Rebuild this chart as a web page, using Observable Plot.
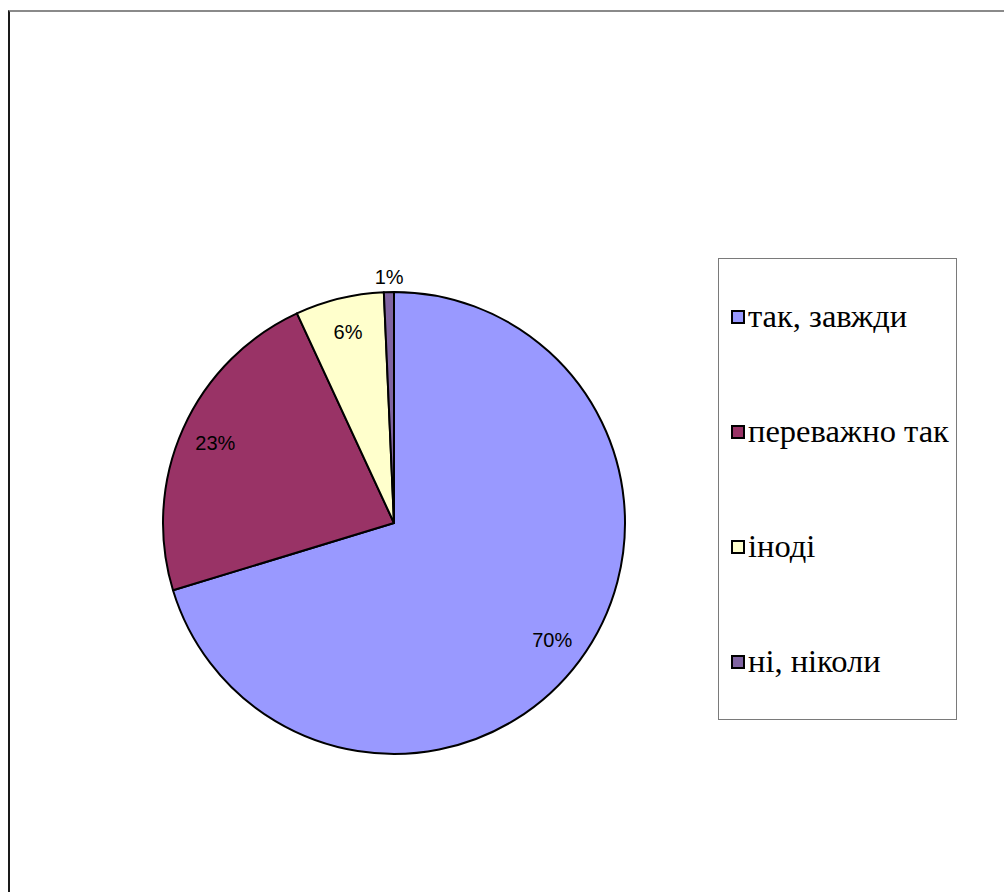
<!DOCTYPE html>
<html>
<head>
<meta charset="utf-8">
<script src="https://cdn.jsdelivr.net/npm/d3@7"></script>
<script src="https://cdn.jsdelivr.net/npm/@observablehq/plot@0.6"></script>
<style>
  html, body { margin: 0; padding: 0; background: #fff; overflow: hidden; }
  #wrap { position: relative; width: 1004px; height: 892px; }
  #frame { position: absolute; left: 8px; top: 10px; right: 0; bottom: 0;
           border-top: 2px solid #8a8a8a; border-left: 2px solid #1a1a1a; }
  #chart { position: absolute; left: 0; top: 0; }
  #legend { position: absolute; left: 718px; top: 258px; width: 239px; height: 462px;
            border: 1.5px solid #7a7a7a; box-sizing: border-box; display: flex; flex-direction: column;
            background: #fff; }
  .item { flex: 1; display: flex; align-items: center; padding-left: 12px;
          color: #000; white-space: nowrap; }
  .sw { width: 10px; height: 10px; border: 2px solid #000; margin-right: 3px; position: relative; top: 0px; flex: none; }
</style>
</head>
<body>
<div id="wrap">
  <div id="frame"></div>
  <div id="chart"></div>
  <div id="legend"></div>
</div>
<script>
const categories = ["так, завжди", "переважно так", "іноді", "ні, ніколи"];
const values = [70.3, 22.8, 6.2, 0.7];
const labels = ["70%", "23%", "6%", "1%"];
const colors = ["#9999FF", "#993366", "#FFFFCC", "#8064A2"];

const data = categories.map((c, i) => ({category: c, value: values[i], label: labels[i], color: colors[i]}));
const arcs = d3.pie().value(d => d.value).sort(null)(data);

// label anchor in unit coordinates (small slices go outside)
const labelData = arcs.map(a => {
  const mid = (a.startAngle + a.endAngle) / 2;
  const r = a.data.value < 2 ? 1.065 : 0.85;
  return {x: Math.sin(mid) * r, y: Math.cos(mid) * r, label: a.data.label};
});

const cx = 394, cy = 523, R = 231;

const pieMark = (index, scales, values, dimensions, context) => {
  const g = d3.create("svg:g");
  const ox = scales.x(0), oy = scales.y(0);
  const rad = Math.abs(scales.x(1) - scales.x(0));
  const arcGen = d3.arc().innerRadius(0).outerRadius(rad);
  g.selectAll("path").data(arcs).join("path")
    .attr("transform", `translate(${ox},${oy})`)
    .attr("d", arcGen)
    .attr("fill", d => d.data.color)
    .attr("stroke", "#000")
    .attr("stroke-width", 2)
    .attr("stroke-linejoin", "round");
  return g.node();
};

const chart = Plot.plot({
  width: 1004,
  height: 892,
  margin: 0,
  x: {domain: [-1, 1], range: [cx - R, cx + R], axis: null},
  y: {domain: [-1, 1], range: [cy + R, cy - R], axis: null},
  style: {background: "transparent"},
  marks: [
    pieMark,
    Plot.text(labelData, {x: "x", y: "y", text: "label", fontSize: 20,
      fontFamily: "Liberation Sans, Arial, sans-serif", fill: "#000"})
  ]
});
document.getElementById("chart").appendChild(chart);

const legend = d3.select("#legend");
const items = legend.selectAll(".item").data(data).join("div").attr("class", "item");
items.append("span").attr("class", "sw").style("background", d => d.color);
items.append("span")
  .style("font-family", '"Liberation Serif", "DejaVu Serif", serif')
  .style("font-size", "32.5px")
  .text(d => d.category);
</script>
</body>
</html>
